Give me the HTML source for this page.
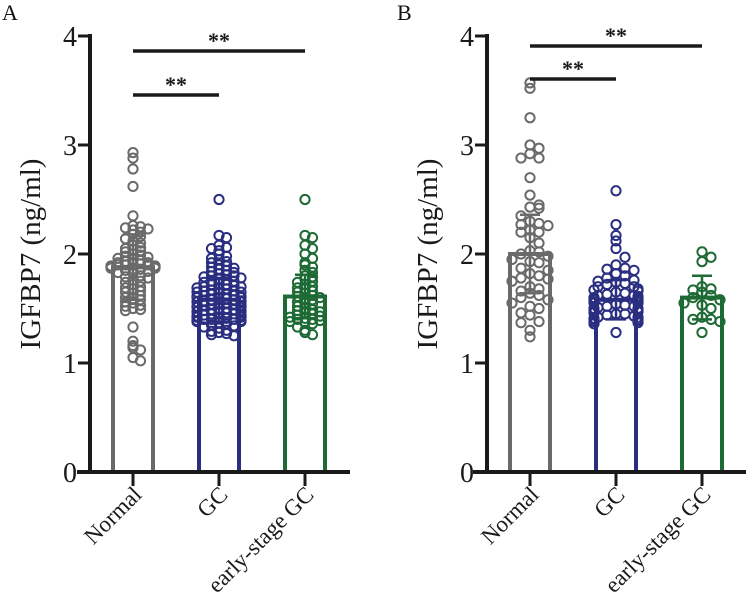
<!DOCTYPE html>
<html><head><meta charset="utf-8"><style>
html,body{margin:0;padding:0;background:#fff}
svg{display:block}
text{font-family:"Liberation Serif","Times New Roman",serif}
</style></head><body>
<svg id="chart" width="749" height="611" viewBox="0 0 749 611" xmlns="http://www.w3.org/2000/svg"></svg>
<script>
const categories = ["Normal","GC","early-stage GC"];
const colors = ["#6a6a6a","#2a2e80","#1e6a34"];
const yTicks = [0,1,2,3,4];
// Panel A
const meansA = [1.88,1.58,1.61];
const sdA = [0.3,0.2,0.2];
const normalA = [2.93,2.88,2.78,2.62,2.35,2.26,2.25,2.24,2.23,2.22,2.2,2.18,2.16,2.14,2.12,2.1,2.08,2.06,2.05,2.04,2.03,2.02,2.0,1.99,1.98,1.97,1.96,1.95,1.94,1.93,1.92,1.92,1.91,1.91,1.9,1.9,1.9,1.89,1.89,1.89,1.88,1.88,1.88,1.87,1.87,1.86,1.86,1.85,1.84,1.83,1.82,1.8,1.79,1.78,1.76,1.75,1.74,1.72,1.7,1.69,1.68,1.66,1.65,1.64,1.62,1.6,1.59,1.58,1.56,1.55,1.53,1.52,1.5,1.49,1.48,1.33,1.2,1.16,1.14,1.12,1.05,1.02];
const gcA = [2.5,2.17,2.15,2.08,2.06,2.05,2.03,2.0,1.98,1.96,1.95,1.93,1.92,1.9,1.89,1.88,1.87,1.86,1.85,1.84,1.83,1.82,1.81,1.8,1.8,1.79,1.78,1.77,1.76,1.75,1.75,1.74,1.73,1.72,1.72,1.71,1.7,1.7,1.69,1.68,1.68,1.67,1.66,1.66,1.65,1.65,1.64,1.63,1.63,1.62,1.62,1.61,1.61,1.6,1.6,1.59,1.59,1.58,1.58,1.57,1.57,1.56,1.56,1.55,1.55,1.54,1.54,1.53,1.53,1.52,1.52,1.51,1.51,1.5,1.5,1.49,1.49,1.48,1.48,1.47,1.47,1.46,1.46,1.45,1.45,1.44,1.44,1.43,1.43,1.42,1.42,1.41,1.41,1.4,1.4,1.4,1.39,1.39,1.38,1.38,1.37,1.36,1.35,1.34,1.33,1.32,1.3,1.29,1.28,1.27,1.26,1.25];
const earlyA = [2.5,2.17,2.15,2.08,2.05,2.0,1.96,1.92,1.9,1.88,1.85,1.83,1.8,1.79,1.77,1.75,1.74,1.72,1.7,1.69,1.68,1.66,1.65,1.64,1.62,1.61,1.6,1.59,1.58,1.56,1.55,1.54,1.52,1.5,1.49,1.48,1.47,1.46,1.45,1.44,1.43,1.42,1.41,1.4,1.4,1.39,1.38,1.37,1.36,1.33,1.3,1.28,1.26];
// Panel B
const meansB = [2.0,1.58,1.6];
const sdB = [0.36,0.18,0.2];
const normalB = [3.57,3.52,3.25,3.0,2.97,2.92,2.88,2.88,2.7,2.54,2.45,2.43,2.42,2.35,2.3,2.28,2.27,2.26,2.22,2.2,2.2,2.15,2.1,2.03,2.02,2.0,1.98,1.95,1.93,1.92,1.87,1.85,1.82,1.8,1.78,1.77,1.75,1.7,1.68,1.66,1.64,1.62,1.6,1.58,1.55,1.52,1.5,1.46,1.44,1.38,1.37,1.3,1.24];
const gcB = [2.58,2.27,2.17,2.12,2.05,1.97,1.9,1.87,1.86,1.85,1.82,1.8,1.78,1.76,1.75,1.74,1.73,1.72,1.7,1.7,1.68,1.67,1.66,1.65,1.64,1.63,1.62,1.62,1.61,1.6,1.6,1.59,1.58,1.58,1.57,1.56,1.55,1.55,1.54,1.53,1.52,1.52,1.51,1.5,1.5,1.49,1.48,1.47,1.46,1.45,1.45,1.44,1.43,1.42,1.42,1.41,1.4,1.4,1.39,1.38,1.37,1.36,1.28];
const earlyB = [2.02,1.97,1.93,1.7,1.68,1.67,1.65,1.62,1.6,1.58,1.55,1.53,1.5,1.42,1.4,1.4,1.38,1.28];

const NS="http://www.w3.org/2000/svg";
const svg=document.getElementById('chart');
function mk(tag,attrs,parent){const e=document.createElementNS(NS,tag);for(const k in attrs)e.setAttribute(k,attrs[k]);(parent||svg).appendChild(e);return e;}
const SERIF='Liberation Serif, Times New Roman, serif';

function panel(cfg){
  const g=mk('g',{});
  
  
  const y0=472,y4=36;
  const y=v=>y0-(v/4)*(y0-y4);
  const xs=cfg.xs;
  const ax=cfg.axisX;
  const lt=mk('text',{x:cfg.letterX,y:20,'font-size':22,fill:'#111','font-family':SERIF},g);lt.textContent=cfg.letter;
  
  
  const yl=mk('line',{x1:ax,y1:y4-2,x2:ax,y2:y0+2,stroke:'#1a1a1a','stroke-width':4},g);
  
  
  yTicks.forEach(t=>{
    mk('line',{x1:ax-12,y1:y(t),x2:ax,y2:y(t),stroke:'#1a1a1a','stroke-width':3},g);
    const tx=mk('text',{x:ax-13,y:y(t)+10,'font-size':28,'text-anchor':'end',fill:'#1a1a1a','font-family':SERIF},g);
    tx.textContent=t;
    
    
  });
  const yt=mk('text',{x:0,y:0,'font-size':29,'text-anchor':'middle',fill:'#1a1a1a','font-family':SERIF,transform:`translate(${ax-50},254) rotate(-90)`},g);
  yt.textContent='IGFBP7 (ng/ml)';
  
  
  const bw=40;
  cfg.means.forEach((m,i)=>{
    const r=mk('rect',{x:xs[i]-bw/2,y:y(m),width:bw,height:y0-y(m),fill:'#fff',stroke:colors[i],'stroke-width':4},g);
    
    
  });
  cfg.series.forEach((arr,i)=>{
    const bins={};
    arr.forEach(v=>{
      const k=Math.round(v/cfg.bin);
      const n=bins[k]=(bins[k]||0)+1;
      const idx=n-1;
      const off=idx===0?0:(idx%2?1:-1)*Math.ceil(idx/2)*cfg.sp;
      const dx=Math.max(-22,Math.min(22,off));
      const c=mk('circle',{cx:xs[i]+dx,cy:y(v),r:4.6,fill:'none',stroke:colors[i],'stroke-width':2},g);
      
      
    });
  });
  cfg.means.forEach((m,i)=>{
    const s=cfg.sd[i];
    const e=mk('path',{d:`M${xs[i]},${y(m-s)}V${y(m+s)}M${xs[i]-10},${y(m+s)}H${xs[i]+10}M${xs[i]-10},${y(m-s)}H${xs[i]+10}`,stroke:colors[i],'stroke-width':2.5,fill:'none'},g);
    
    
  });
  const xl=mk('line',{x1:cfg.xStart,y1:y0,x2:cfg.xEnd,y2:y0,stroke:'#1a1a1a','stroke-width':4},g);
  
  
  categories.forEach((c,i)=>{
    mk('line',{x1:xs[i],y1:y0,x2:xs[i],y2:y0+14,stroke:'#1a1a1a','stroke-width':3},g);
    const t=mk('text',{x:0,y:0,'font-size':23,'text-anchor':'end',fill:'#1a1a1a','font-family':SERIF,transform:`translate(${xs[i]+10},${y0+24}) rotate(-45)`},g);
    t.textContent=c;
    
    
  });
  cfg.sig.forEach(s=>{
    const l=mk('line',{x1:xs[s.a],y1:s.y,x2:xs[s.b],y2:s.y,stroke:'#1a1a1a','stroke-width':3.5},g);
    
    
    const t=mk('text',{x:(xs[s.a]+xs[s.b])/2,y:s.y-3,'font-size':22,'font-family':'Liberation Sans, sans-serif','font-weight':'bold','text-anchor':'middle',fill:'#1a1a1a'},g);
    t.textContent='**';
    
    
  });
}
panel({name:'panel-a',letter:'A',letterX:2,axisX:90,xs:[133,219,305],xStart:77,xEnd:350,bin:0.045,sp:7.5,means:meansA,sd:sdA,series:[normalA,gcA,earlyA],sig:[{a:0,b:1,y:95},{a:0,b:2,y:51}]});
panel({name:'panel-b',letter:'B',letterX:397,axisX:487,xs:[530,616,702],xStart:473,xEnd:746,bin:0.1,sp:9,means:meansB,sd:sdB,series:[normalB,gcB,earlyB],sig:[{a:0,b:1,y:79},{a:0,b:2,y:46}]});
</script>
</body></html>
